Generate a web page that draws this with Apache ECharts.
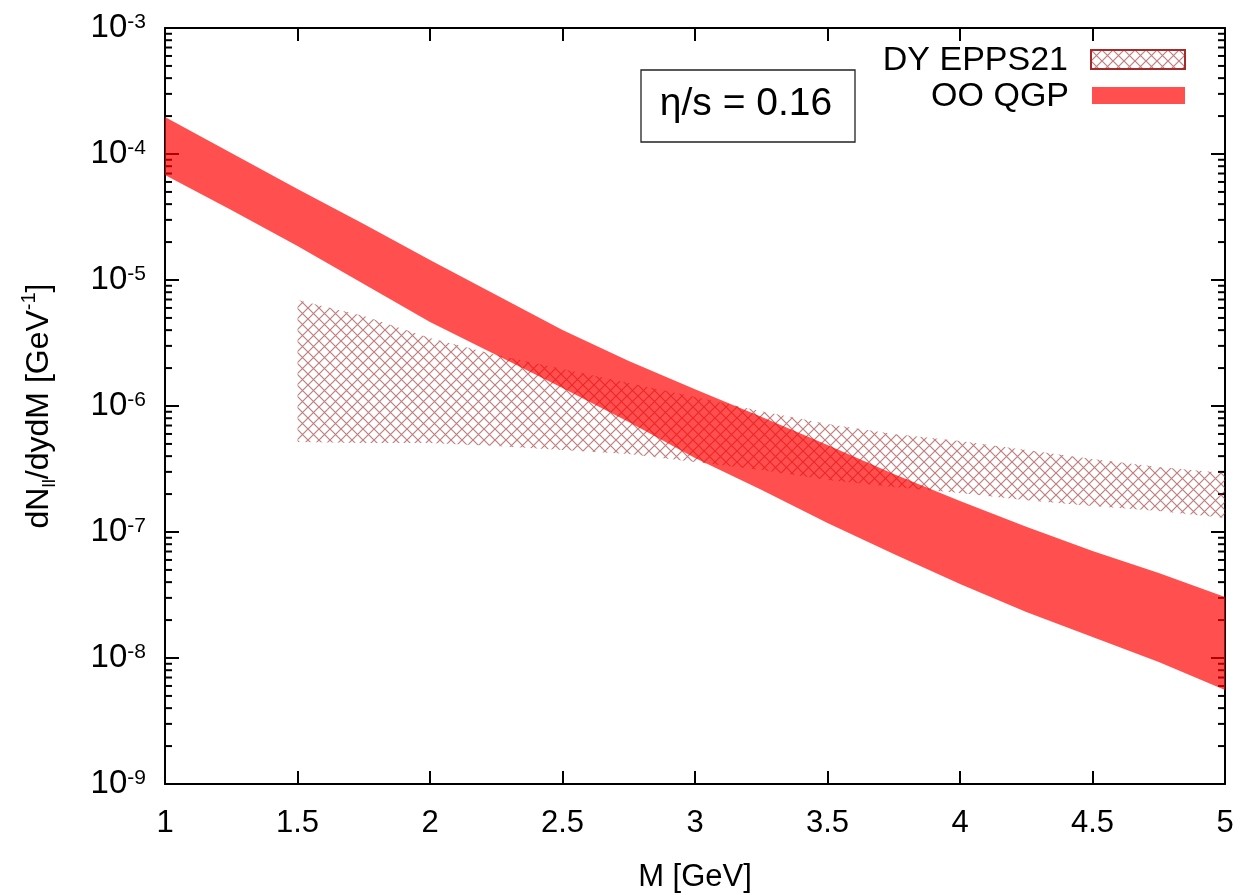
<!DOCTYPE html>
<html>
<head>
<meta charset="utf-8">
<script src="https://cdn.jsdelivr.net/npm/echarts@6/dist/echarts.min.js"></script>
<style>
html,body{margin:0;padding:0;background:#ffffff;}
#chart{width:1252px;height:895px;}
</style>
</head>
<body>
<div id="chart"></div>
<script>
// ---- data ----
const qgpM = [1, 1.25, 1.5, 1.75, 2, 2.25, 2.5, 2.75, 3, 3.25, 3.5, 3.75, 4, 4.25, 4.5, 4.75, 5];
const qgpUpper = [1.97e-4, 1.02e-4, 5.27e-5, 2.78e-5, 1.44e-5, 7.6e-6, 4.01e-6, 2.28e-6, 1.36e-6, 8.2e-7, 4.9e-7, 2.88e-7, 1.76e-7, 1.10e-7, 7.07e-8, 4.73e-8, 3.05e-8];
const qgpLower = [6.81e-5, 3.59e-5, 1.86e-5, 9.3e-6, 4.64e-6, 2.54e-6, 1.39e-6, 7.46e-7, 3.87e-7, 2.16e-7, 1.18e-7, 6.69e-8, 3.87e-8, 2.32e-8, 1.47e-8, 9.3e-9, 5.57e-9];

const dyM = [1.5, 1.75, 2, 2.25, 2.5, 2.75, 3, 3.25, 3.5, 3.75, 4, 4.25, 4.5, 4.75, 5];
const dyUpper = [6.94e-6, 5.18e-6, 3.47e-6, 2.54e-6, 1.97e-6, 1.52e-6, 1.18e-6, 9.1e-7, 7.2e-7, 6.0e-7, 5.27e-7, 4.48e-7, 3.8e-7, 3.28e-7, 2.94e-7];
const dyLower = [5.18e-7, 5.08e-7, 5.08e-7, 4.82e-7, 4.48e-7, 4.16e-7, 3.6e-7, 3.1e-7, 2.59e-7, 2.28e-7, 2.04e-7, 1.79e-7, 1.61e-7, 1.47e-7, 1.29e-7];

const xTickLabels = ['1', '1.5', '2', '2.5', '3', '3.5', '4', '4.5', '5'];
const yDecadeExponents = [-9, -8, -7, -6, -5, -4, -3];
const seriesNames = ['DY EPPS21', 'OO QGP'];
const annotationText = 'η/s = 0.16';

// minor tick values for log axis (2..9 × 10^n)
const yMinorTicks = [];
for (let e = -9; e < -3; e++) {
  for (let k = 2; k <= 9; k++) yMinorTicks.push(k * Math.pow(10, e));
}

const FONT = '"Liberation Sans", Arial, Helvetica, sans-serif';

function makeHatch() {
  const s = 11;
  const c = document.createElement('canvas');
  c.width = s; c.height = s;
  const g = c.getContext('2d');
  g.strokeStyle = 'rgba(155,45,45,0.62)';
  g.lineWidth = 1.2;
  g.beginPath();
  g.moveTo(-1, -1); g.lineTo(s + 1, s + 1);
  g.moveTo(s + 1, -1); g.lineTo(-1, s + 1);
  g.stroke();
  return c;
}
const hatchCanvas = makeHatch();
const hatchFill = { image: hatchCanvas, repeat: 'repeat' };
const qgpFill = 'rgba(255,0,0,0.69)';

function bandRender(xs, up, lo, fill) {
  return function (params, api) {
    if (params.dataIndex !== 0) return null;
    const pts = [];
    for (let i = 0; i < xs.length; i++) pts.push(api.coord([xs[i], up[i]]));
    for (let i = xs.length - 1; i >= 0; i--) pts.push(api.coord([xs[i], lo[i]]));
    return { type: 'polygon', shape: { points: pts }, style: { fill: fill, stroke: null } };
  };
}

const chart = echarts.init(document.getElementById('chart'), null, { renderer: 'canvas' });

const axisLine = { show: true, lineStyle: { color: '#000', width: 2 } };

const option = {
  animation: false,
  backgroundColor: '#ffffff',
  grid: { left: 165, right: 27, top: 28, bottom: 111, containLabel: false, outerBoundsMode: 'none' },
  xAxis: [
    {
      type: 'value', min: 1, max: 5, interval: 0.5, position: 'bottom',
      name: 'M [GeV]', nameLocation: 'middle', nameGap: 78,
      nameTextStyle: { fontFamily: FONT, fontSize: 31, color: '#000' },
      axisLine: axisLine,
      axisTick: { show: true, inside: true, length: 13, lineStyle: { color: '#000', width: 2 } },
      axisLabel: {
        show: true, margin: 24, fontFamily: FONT, fontSize: 31, color: '#000',
        formatter: function (v) { const i = Math.round((v - 1) / 0.5); return xTickLabels[i] !== undefined ? xTickLabels[i] : ''; },
        showMinLabel: true, showMaxLabel: true
      },
      splitLine: { show: false }
    },
    {
      type: 'value', min: 1, max: 5, interval: 0.5, position: 'top',
      axisLine: axisLine,
      axisTick: { show: true, inside: true, length: 13, lineStyle: { color: '#000', width: 2 } },
      axisLabel: { show: false },
      splitLine: { show: false }
    }
  ],
  yAxis: [
    {
      type: 'log', logBase: 10, min: 1e-9, max: 1e-3, splitNumber: 6, position: 'left',
      name: '{t|dN}{sub|ll}{t|/dydM [GeV}{sup|-1}{t|]}',
      nameLocation: 'middle', nameRotate: 90, nameGap: 106,
      nameTextStyle: {
        fontFamily: FONT, color: '#000',
        rich: {
          t: { fontFamily: FONT, fontSize: 32, lineHeight: 40, color: '#000', verticalAlign: 'middle' },
          sub: { fontFamily: FONT, fontSize: 19, lineHeight: 19, color: '#000', verticalAlign: 'bottom' },
          sup: { fontFamily: FONT, fontSize: 20, lineHeight: 20, color: '#000', verticalAlign: 'top' }
        }
      },
      axisLine: axisLine,
      axisTick: { show: true, inside: true, length: 14, lineStyle: { color: '#000', width: 2 } },
      axisLabel: {
        show: true, margin: 19, color: '#000',
        formatter: function (v) {
          const e = Math.round(Math.log10(v));
          if (yDecadeExponents.indexOf(e) < 0) return '';
          return '{b|10}{s|' + e + '}';
        },
        rich: {
          b: { fontFamily: FONT, fontSize: 33, lineHeight: 33, color: '#000', verticalAlign: 'middle' },
          s: { fontFamily: FONT, fontSize: 21, lineHeight: 21, color: '#000', verticalAlign: 'top' }
        },
        showMinLabel: true, showMaxLabel: true
      },
      splitLine: { show: false },
      minorTick: { show: false }
    },
    {
      type: 'log', logBase: 10, min: 1e-9, max: 1e-3, splitNumber: 6, position: 'right',
      axisLine: axisLine,
      axisTick: { show: true, inside: true, length: 14, lineStyle: { color: '#000', width: 2 } },
      axisLabel: { show: false },
      splitLine: { show: false }
    }
  ],
  series: [
    {
      name: 'minor ticks',
      type: 'custom',
      xAxisIndex: 0, yAxisIndex: 0,
      silent: true,
      z: 1,
      data: yMinorTicks.map(function (v) { return [1, v]; }),
      renderItem: function (params, api) {
        const cs = params.coordSys;
        const y = api.coord([1, api.value(1)])[1];
        return {
          type: 'group',
          children: [
            { type: 'line', shape: { x1: cs.x, y1: y, x2: cs.x + 7, y2: y }, style: { stroke: '#000', lineWidth: 2 } },
            { type: 'line', shape: { x1: cs.x + cs.width - 7, y1: y, x2: cs.x + cs.width, y2: y }, style: { stroke: '#000', lineWidth: 2 } }
          ]
        };
      }
    },
    {
      name: seriesNames[0],
      type: 'custom',
      xAxisIndex: 0, yAxisIndex: 0,
      z: 2,
      data: dyM.map(function (m, i) { return [m, dyLower[i], dyUpper[i]]; }),
      renderItem: bandRender(dyM, dyUpper, dyLower, hatchFill)
    },
    {
      name: seriesNames[1],
      type: 'custom',
      xAxisIndex: 0, yAxisIndex: 0,
      z: 3,
      data: qgpM.map(function (m, i) { return [m, qgpLower[i], qgpUpper[i]]; }),
      renderItem: bandRender(qgpM, qgpUpper, qgpLower, qgpFill)
    }
  ],
  graphic: [
    // legend
    { type: 'text', x: 1068, y: 61, z: 10,
      style: { text: seriesNames[0], fontFamily: FONT, fontSize: 34, fill: '#000', align: 'right', verticalAlign: 'middle' } },
    { type: 'rect', x: 1091, y: 50, z: 10,
      shape: { width: 94, height: 19 },
      style: { fill: hatchFill, stroke: '#a52a2a', lineWidth: 2 } },
    { type: 'text', x: 1069, y: 97, z: 10,
      style: { text: seriesNames[1], fontFamily: FONT, fontSize: 34, fill: '#000', align: 'right', verticalAlign: 'middle' } },
    { type: 'rect', x: 1092, y: 87, z: 10,
      shape: { width: 93, height: 17 },
      style: { fill: qgpFill, stroke: null } },
    // annotation box
    { type: 'rect', x: 641, y: 70, z: 10,
      shape: { width: 214, height: 72 },
      style: { fill: '#fff', stroke: '#222', lineWidth: 1.3 } },
    { type: 'text', x: 746, y: 104, z: 11,
      style: { text: annotationText, fontFamily: FONT, fontSize: 39, fill: '#000', align: 'center', verticalAlign: 'middle' } }
  ]
};

chart.setOption(option);
</script>
</body>
</html>
